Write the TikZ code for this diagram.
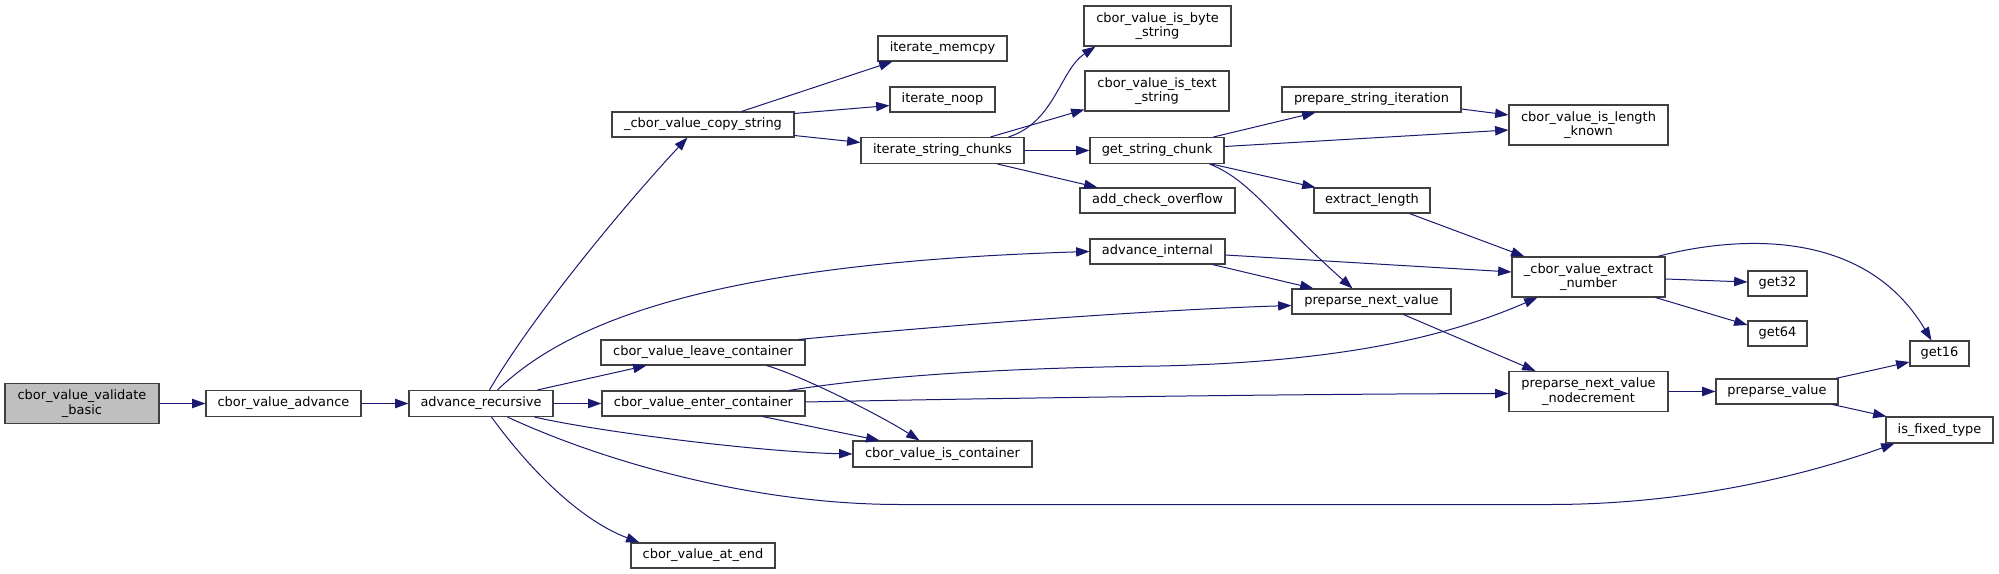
\documentclass[tikz,border=0pt]{standalone}
\usepackage{fontspec}
\setmainfont{DejaVu Sans}
\usetikzlibrary{arrows.meta,calc}
\definecolor{edgec}{RGB}{25,25,112}
\definecolor{boxc}{RGB}{64,64,64}
\definecolor{rootc}{RGB}{191,191,191}
\begin{document}
\begin{tikzpicture}[x=0.75pt,y=-0.75pt,
  fn/.style={draw=boxc, line width=0.8pt, fill=white, inner sep=0pt, align=center,
             font=\fontsize{9.7}{11}\selectfont, text=black},
  sz/.style 2 args={minimum width=#1*0.75pt, minimum height=#2*0.75pt},
  call/.style={draw=edgec, line width=0.75pt, -{Triangle[length=10pt,width=7pt]}}]
\useasboundingbox (0,0) rectangle (1999,574);

% nodes
\node[fn,sz={154}{40},fill=rootc] (vb) at (82,403.5) {cbor\_value\_validate\\\_basic};
\node[fn,sz={155}{26}] (adv) at (283.5,403.5) {cbor\_value\_advance};
\node[fn,sz={144}{26}] (ar) at (481,403.5) {advance\_recursive};
\node[fn,sz={182}{25}] (cs) at (703,124.5) {\_cbor\_value\_copy\_string};
\node[fn,sz={204}{25}] (lc) at (703,352.5) {cbor\_value\_leave\_container};
\node[fn,sz={203}{25}] (ec) at (703.5,403.5) {cbor\_value\_enter\_container};
\node[fn,sz={144}{25}] (ae) at (703,555.5) {cbor\_value\_at\_end};
\node[fn,sz={129}{25}] (im) at (942.5,48.5) {iterate\_memcpy};
\node[fn,sz={105}{25}] (in) at (942.5,99.5) {iterate\_noop};
\node[fn,sz={163}{26}] (isc) at (942.5,150.5) {iterate\_string\_chunks};
\node[fn,sz={179}{26}] (ic) at (942.5,454) {cbor\_value\_is\_container};
\node[fn,sz={147}{40}] (bs) at (1157.5,26) {cbor\_value\_is\_byte\\\_string};
\node[fn,sz={144}{40}] (ts) at (1157,91) {cbor\_value\_is\_text\\\_string};
\node[fn,sz={134}{26}] (gsc) at (1157,150.5) {get\_string\_chunk};
\node[fn,sz={155}{25}] (aco) at (1157.5,200.5) {add\_check\_overflow};
\node[fn,sz={135}{25}] (ai) at (1157.5,251.5) {advance\_internal};
\node[fn,sz={179}{25}] (psi) at (1371.5,99.5) {prepare\_string\_iteration};
\node[fn,sz={116}{25}] (el) at (1372,200.5) {extract\_length};
\node[fn,sz={159}{25}] (pnv) at (1371.5,301.5) {preparse\_next\_value};
\node[fn,sz={159}{40}] (ilk) at (1588.5,125) {cbor\_value\_is\_length\\\_known};
\node[fn,sz={153}{40}] (en) at (1588.5,277) {\_cbor\_value\_extract\\\_number};
\node[fn,sz={159}{40}] (nd) at (1588.5,391.5) {preparse\_next\_value\\\_nodecrement};
\node[fn,sz={59}{25}] (g32) at (1777.5,283.5) {get32};
\node[fn,sz={59}{25}] (g64) at (1777.5,333.5) {get64};
\node[fn,sz={122}{25}] (pv) at (1777,391.5) {preparse\_value};
\node[fn,sz={59}{25}] (g16) at (1939.5,353.5) {get16};
\node[fn,sz={107}{26}] (ift) at (1939.5,430) {is\_fixed\_type};

% edges
\draw[call] (vb.east) -- (adv.west);
\draw[call] (adv.east) -- (ar.west);
\draw[call] ($(ar.north west)+(81,0)$) .. controls (530,320) and (620,210) .. ($(cs.south west)+(76,0)$);
\draw[call] ($(ar.north west)+(89,0)$) .. controls (580,310) and (750,262) .. (ai.west);
\draw[call] ($(ar.north west)+(129,0)$) -- ($(lc.south west)+(46,0)$);
\draw[call] (ar.east) -- (ec.west);
\draw[call] ($(ar.south west)+(126,0)$) .. controls (600,432) and (760,452) .. (ic.west);
\draw[call] ($(ar.south west)+(99,0)$) .. controls (600,460) and (750,504.5) .. (900,504.5)
   -- (1550,504.5) .. controls (1700,504.5) and (1820,470) .. ($(ift.south west)+(9,0)$);
\draw[call] ($(ar.south west)+(83,0)$) .. controls (530,470) and (580,520) .. ($(ae.north west)+(9,0)$);

\draw[call] ($(cs.north west)+(130,0)$) -- ($(im.south west)+(15,0)$);
\draw[call] ($(cs.north east)+(0,2)$) -- ($(in.west)+(0,6)$);
\draw[call] ($(cs.south east)+(0,-2)$) -- ($(isc.west)+(0,-8)$);

\draw[call] ($(isc.north east)+(-16,0)$) .. controls (1055,122) and (1060,70) .. ($(bs.south west)+(12,0)$);
\draw[call] ($(isc.north east)+(-34,0)$) -- ($(ts.south west)+(0,-2)$);
\draw[call] (isc.east) -- (gsc.west);
\draw[call] ($(isc.south east)+(-27,0)$) -- ($(aco.north west)+(18,0)$);

\draw[call] ($(gsc.north east)+(-11,0)$) -- ($(psi.south west)+(34,0)$);
\draw[call] ($(gsc.east)+(0,-4)$) -- ($(ilk.west)+(0,5)$);
\draw[call] ($(psi.east)+(0,9.5)$) -- ($(ilk.west)+(0,-10)$);
\draw[call] ($(gsc.south east)+(-13,0)$) -- ($(el.north west)+(2,0)$);
\draw[call] ($(gsc.south east)+(-15,0)$) .. controls (1250,180) and (1270,215) .. ($(pnv.north west)+(61,0)$);

\draw[call] ($(ai.south west)+(123,0)$) -- ($(pnv.north west)+(22,0)$);
\draw[call] ($(ai.east)+(0,3.5)$) -- ($(en.west)+(0,-5)$);
\draw[call] ($(el.south west)+(96,0)$) -- ($(en.north west)+(13,0)$);

\draw[call] ($(lc.north east)+(-7,0)$) .. controls (950,325) and (1150,310) .. ($(pnv.west)+(0,4)$);
\draw[call] ($(lc.south west)+(166,0)$) .. controls (800,375) and (880,415) .. ($(ic.north west)+(67,0)$);
\draw[call] ($(ec.north east)+(-17,0)$) .. controls (880,376) and (1000,368) .. (1160,366)
   .. controls (1330,362) and (1440,340) .. ($(en.south west)+(26,0)$);
\draw[call] ($(ec.east)+(0,-1.5)$) .. controls (1000,398) and (1300,394) .. ($(nd.west)+(0,2)$);
\draw[call] ($(ec.south west)+(161,0)$) -- ($(ic.north west)+(27,0)$);

\draw[call] ($(pnv.south west)+(112,0)$) -- ($(nd.north west)+(27,0)$);
\draw[call] (nd.east) -- (pv.west);
\draw[call] ($(pv.north east)+(-3,0)$) -- ($(g16.west)+(0,8.5)$);
\draw[call] ($(pv.south east)+(-6,0)$) -- ($(ift.north west)+(1,0)$);
\draw[call] ($(en.east)+(0,2)$) -- ($(g32.west)+(0,-1.5)$);
\draw[call] ($(en.south east)+(-10,0)$) -- ($(g64.west)+(0,-8.5)$);
\draw[call] ($(en.north east)+(-8,0)$) .. controls (1720,240) and (1860,220) .. ($(g16.north west)+(22,0)$);
\end{tikzpicture}
\end{document}
